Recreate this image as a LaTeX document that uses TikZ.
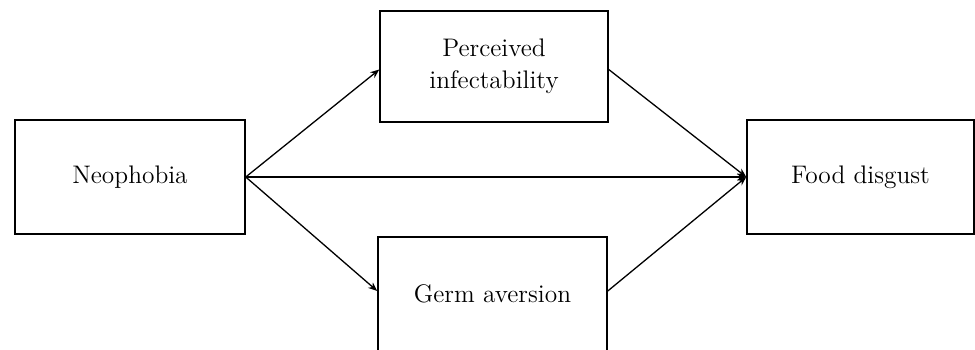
\documentclass[tikz,border=0pt]{standalone}
\usetikzlibrary{arrows.meta}
\begin{document}
\begin{tikzpicture}[x=0.5pt,y=-0.5pt,
  boxstyle/.style={draw, line width=0.75pt, rectangle, inner sep=0pt, align=center,
    font=\fontsize{12.7}{16}\selectfont},
  arr/.style={line width=0.65pt, -{Stealth[length=4.5pt,width=3.6pt]}}]
\useasboundingbox (0,0) rectangle (975,349);
\node[boxstyle, minimum width=115pt, minimum height=57pt] (neo) at (130,177) {Neophobia};
\node[boxstyle, minimum width=114pt, minimum height=55.5pt] (pi) at (494,66.5) {Perceived\\infectability};
\node[boxstyle, minimum width=114.5pt, minimum height=57pt] (ga) at (492.5,294) {Germ aversion};
\node[boxstyle, minimum width=113.5pt, minimum height=57pt] (fd) at (860.5,177) {Food disgust};
\coordinate (pin) at ([yshift=-1.5pt]pi.west);
\coordinate (gain) at ([yshift=1.5pt]ga.west);
\coordinate (piout) at ([yshift=-1.5pt]pi.east);
\coordinate (gaout) at ([yshift=1.5pt]ga.east);
\draw[arr] (neo.east) -- (pin);
\draw[arr] (neo.east) -- (gain);
\draw[arr] (neo.east) -- (fd.west);
\draw[arr] (piout) -- (fd.west);
\draw[arr] (gaout) -- (fd.west);
\end{tikzpicture}
\end{document}
